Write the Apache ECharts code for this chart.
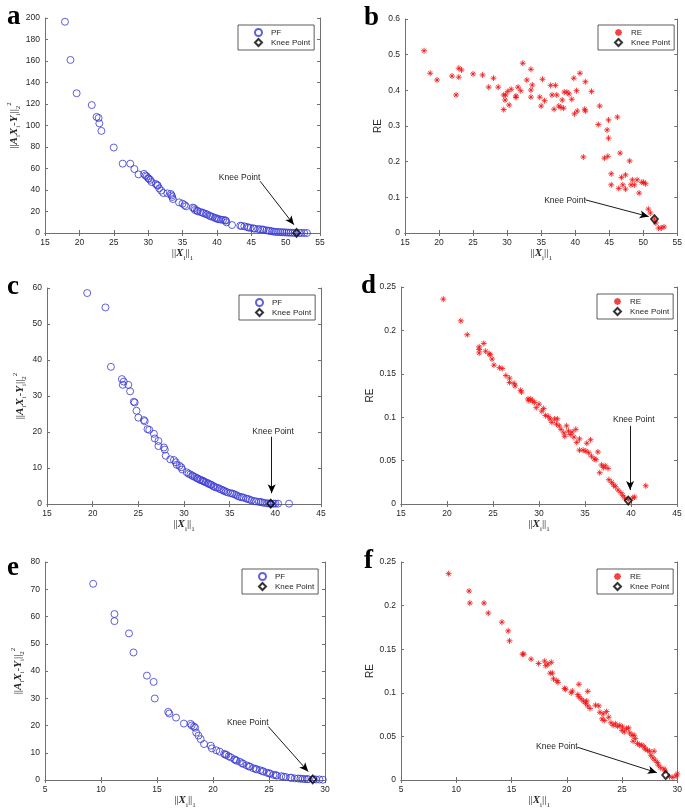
<!DOCTYPE html>
<html><head><meta charset="utf-8">
<script src="https://cdn.jsdelivr.net/npm/echarts/dist/echarts.min.js"></script>
<style>html,body{margin:0;padding:0;background:#fff}#c{width:685px;height:811px}</style>
</head><body><div id="c"></div>
<script>
// ---------- data ----------
const aX = [17.9,18.7,19.6,21.8,22.5,22.8,22.9,23.2,25.0,26.3,27.4,28.0,28.6,29.4,29.6,29.8,30.0,30.1,30.3,30.5,31.1,31.3,31.4,31.6,31.9,32.2,32.8,33.3,33.4,33.5,33.6,34.5,35.0,35.3,35.5,36.5,36.7,36.8,37.1,37.2,37.6,37.9,38.1,38.4,38.6,38.9,39.1,39.4,39.7,39.9,40.1,40.3,40.6,40.9,41.2,41.3,41.4,42.2,43.4,43.6,44.0,44.4,44.6,44.9,45.3,45.5,46.0,46.3,46.6,46.8,47.2,47.5,47.7,48.0,48.3,48.6,48.9,49.2,49.5,49.8,50.1,50.4,50.7,51.0,51.3,52.0,52.3,52.7,53.1];
const aY = [196.5,161,130,119,108,107,102,95,79.5,64.5,64.5,59.5,54.5,55,53.5,52.7,51,50.5,49.5,47.4,45.6,44.7,44,41.5,39.4,37.2,36.9,36.3,35,33.5,31.6,28.5,27.3,26,24.8,23.6,23,21.4,21,20.2,19.5,19,18.3,17.8,17.1,16.2,15.5,15,14,13.8,13,12.8,12.4,12.2,11.8,11.5,9.9,7.4,6.8,6.5,6.2,5.6,5,4.8,4.3,4.0,3.7,3.4,3.2,3.1,2.5,2.2,1.9,1.6,1.2,1.0,0.9,0.8,0.7,0.6,0.5,0.3,0.3,0.2,0.15,0.1,0.05,0.03,0.02];
const kneeA = [51.6, 0.1];

const bX = [17.8,18.7,19.7,21.9,22.5,22.9,22.9,23.3,25.0,26.4,27.3,28.0,28.7,29.5,29.5,29.7,29.8,30.1,30.3,30.6,31.3,31.3,31.6,32.0,32.3,32.9,33.5,33.5,33.5,33.7,34.8,35.0,35.2,35.5,36.4,36.6,36.9,37.1,37.3,37.6,37.9,38.1,38.3,38.4,38.8,39.1,39.5,39.8,39.9,40.2,40.3,40.7,41.2,41.4,41.5,41.5,42.4,43.4,43.6,44.3,44.7,44.8,44.9,44.9,45.3,45.3,46.4,46.2,46.6,46.8,47.0,47.4,47.4,48.0,48.2,48.4,48.7,49.1,49.4,49.8,50.05,50.35,50.75,51.05,51.65,51.85,52.25,52.65,53.05];
const bY = [0.511,0.448,0.429,0.440,0.387,0.437,0.462,0.457,0.446,0.443,0.409,0.434,0.409,0.387,0.346,0.373,0.387,0.397,0.359,0.403,0.384,0.380,0.409,0.399,0.476,0.429,0.459,0.401,0.381,0.415,0.381,0.356,0.431,0.371,0.414,0.387,0.347,0.414,0.387,0.356,0.352,0.373,0.350,0.395,0.395,0.390,0.375,0.434,0.334,0.399,0.342,0.448,0.213,0.347,0.424,0.342,0.397,0.304,0.356,0.210,0.289,0.215,0.317,0.266,0.166,0.135,0.125,0.325,0.224,0.156,0.135,0.163,0.123,0.202,0.135,0.149,0.135,0.149,0.112,0.142,0.142,0.138,0.067,0.056,0.039,0.028,0.014,0.014,0.017];
const kneeB = [51.65, 0.039];

const cX = [19.4,21.4,22.0,23.2,23.4,23.3,23.9,24.1,24.5,24.6,24.8,25.0,25.6,25.7,26.0,26.2,26.7,26.8,27.2,27.2,27.8,27.9,28.0,28.5,28.9,29.1,29.2,29.5,29.7,29.8,30.3,30.5,30.7,30.9,31.0,31.2,31.4,31.5,31.7,31.8,32.0,32.1,32.2,32.4,32.6,32.7,32.9,33.0,33.2,33.3,33.5,33.7,33.9,34.1,34.3,34.4,34.6,34.8,35.1,35.3,35.5,35.7,35.9,36.1,36.3,36.5,36.8,37.0,37.2,37.4,37.7,37.9,38.2,38.4,38.6,38.8,39.1,39.3,39.5,39.8,40.0,40.3,41.5];
const cY = [58.6,54.6,38.1,34.7,34.0,33.1,33.1,31.3,28.4,28.2,25.9,24.0,23.3,23.0,20.8,20.6,19.5,18.2,17.5,16.1,15.7,15.1,13.4,12.4,12.2,11.6,10.9,10.6,10.2,9.6,8.8,8.4,8.2,7.9,7.7,7.5,7.2,7.1,6.8,6.7,6.5,6.4,6.2,6.0,5.8,5.6,5.4,5.3,5.0,4.8,4.6,4.5,4.2,4.0,3.8,3.6,3.4,3.2,3.0,2.9,2.7,2.5,2.2,2.0,1.9,1.8,1.5,1.4,1.2,1.0,0.8,0.7,0.6,0.55,0.4,0.3,0.2,0.15,0.1,0.1,0.1,0.1,0.1];
const kneeC = [39.5, 0.1];

const dX = [19.6,21.5,22.2,23.5,23.5,23.5,24.0,24.2,24.6,24.7,24.9,25.1,25.7,26.0,26.4,26.8,26.8,27.3,27.4,28.0,28.1,28.8,28.9,29.1,29.3,29.5,29.7,30.0,30.3,30.5,30.7,31.0,31.2,31.4,31.7,31.9,32.0,32.2,32.4,32.7,32.8,33.0,33.2,33.4,33.6,33.8,34.0,34.1,34.4,34.4,34.8,35.1,35.2,35.6,35.4,35.7,36.0,36.2,36.4,36.6,36.8,37.0,37.2,37.5,37.6,37.9,38.1,38.3,38.6,38.9,39.1,39.3,39.7,40.2,40.4,41.6];
const dY = [0.236,0.211,0.195,0.181,0.178,0.174,0.185,0.176,0.173,0.172,0.167,0.160,0.157,0.156,0.148,0.145,0.140,0.139,0.136,0.131,0.129,0.121,0.119,0.121,0.119,0.117,0.111,0.115,0.107,0.110,0.102,0.101,0.098,0.094,0.098,0.092,0.098,0.090,0.086,0.082,0.078,0.090,0.084,0.080,0.083,0.077,0.086,0.071,0.075,0.062,0.062,0.061,0.070,0.074,0.059,0.055,0.052,0.051,0.060,0.036,0.045,0.042,0.044,0.041,0.028,0.025,0.022,0.020,0.016,0.013,0.010,0.007,0.005,0.007,0.008,0.021];
const kneeD = [39.7, 0.004];

const eX = [9.3,11.2,11.2,12.5,12.9,14.1,14.7,14.8,16.0,16.1,16.7,17.4,18.0,18.1,18.3,18.4,18.5,18.7,18.9,19.2,19.8,19.9,20.3,20.6,21.0,21.2,21.4,21.6,21.9,22.1,22.4,22.7,23.0,23.3,23.6,23.9,24.2,24.5,24.8,25.1,25.4,25.7,26.1,26.5,26.9,27.3,27.8,28.2,28.5,29.2,29.5,29.8,21.1,22.0,22.6,23.2,23.8,24.4,25.0,25.6,26.3,27.0,27.6,28.0,28.4,29.0];
const eY = [72.0,60.9,58.3,53.8,46.8,38.3,36.0,29.9,25.0,24.4,22.9,20.7,20.6,20.0,19.6,19.2,17.4,16.3,15.0,13.2,12.6,11.6,10.9,10.4,9.6,9.2,8.7,8.3,7.6,7.1,6.7,5.9,5.4,4.9,4.3,3.9,3.6,3.1,2.7,2.3,1.9,1.6,1.4,1.1,0.85,0.6,0.5,0.35,0.3,0.2,0.2,0.1,9.3,7.4,6.2,5.0,4.1,3.3,2.5,1.8,1.2,0.8,0.55,0.4,0.3,0.25];
const kneeE = [28.9, 0.25];

const fX = [9.31,11.16,11.23,12.51,12.9,14.13,14.7,14.82,16.0,16.1,16.77,17.45,18.0,18.1,18.3,18.6,18.5,18.7,18.8,19.1,19.2,19.8,19.9,20.4,20.5,21.0,21.1,21.1,21.3,21.5,21.7,21.8,21.9,21.9,22.1,22.6,22.9,23.0,23.3,23.6,23.2,23.4,23.8,24.0,24.2,24.4,24.6,24.8,25.0,25.05,25.2,25.4,25.6,25.7,25.9,26.1,26.2,26.0,26.4,26.6,26.8,27.0,27.1,27.3,27.5,27.6,27.8,27.9,28.0,28.2,28.3,28.5,28.8,28.9,29.3,29.6,29.9,30.0];
const fY = [0.2366,0.2167,0.2029,0.2029,0.1914,0.181,0.171,0.1596,0.1443,0.1443,0.1386,0.1336,0.1363,0.1310,0.133,0.135,0.1225,0.1225,0.116,0.114,0.112,0.105,0.104,0.100,0.102,0.098,0.1098,0.0955,0.0932,0.0906,0.088,0.0906,0.1017,0.085,0.082,0.0858,0.085,0.0777,0.0759,0.0785,0.0701,0.0682,0.072,0.0656,0.0627,0.0645,0.0615,0.0627,0.0570,0.0608,0.0551,0.0589,0.0597,0.054,0.0513,0.0513,0.0475,0.0445,0.0418,0.040,0.040,0.038,0.0353,0.0342,0.0330,0.0284,0.0253,0.033,0.0227,0.020,0.017,0.014,0.0127,0.0104,0.0038,0.003,0.0046,0.007];
const kneeF = [28.95, 0.0057];

// tick labels
const xTicksAB = [15,20,25,30,35,40,45,50,55];
const yTicksA = [0,20,40,60,80,100,120,140,160,180,200];
const yTicksB = [0,0.1,0.2,0.3,0.4,0.5,0.6];
const xTicksCD = [15,20,25,30,35,40,45];
const yTicksC = [0,10,20,30,40,50,60];
const yTicksD = [0,0.05,0.1,0.15,0.2,0.25];
const xTicksEF = [5,10,15,20,25,30];
const yTicksE = [0,10,20,30,40,50,60,70,80];
const yTicksF = [0,0.05,0.1,0.15,0.2,0.25];

const panelLetters = ['a','b','c','d','e','f'];
const kneeLabel = 'Knee Point';

// ---------- styles / layout ----------
const BLUE = '#3838d2', RED = '#f01414', AX = '#707070', TXT = '#262626';
const SANS = 'Liberation Sans', SERIF = 'Liberation Serif';
const STAR = 'path://M5 0L5 10M0 5L10 5M1.6 1.6L8.4 8.4M1.6 8.4L8.4 1.6';

const yNamePF = '{n|||}{v|A}{s|i}{v|X}{s|i}{n|-}{v|Y}{s|i}{n|||}{s|2}{p|2}';
const xName = '{n|||}{v|X}{s|i}{n|||}{s|1}';
const rich = {
  n: {fontFamily: SERIF, fontSize: 11, color: TXT, lineHeight: 16},
  v: {fontFamily: SERIF, fontSize: 11, fontStyle: 'italic', fontWeight: 'bold', color: TXT, lineHeight: 16},
  s: {fontFamily: SERIF, fontSize: 7, color: TXT, verticalAlign: 'bottom', lineHeight: 16},
  p: {fontFamily: SERIF, fontSize: 7, color: TXT, verticalAlign: 'top', lineHeight: 16}
};

const panels = [
  {x:aX, y:aY, knee:kneeA, kind:'PF', xt:xTicksAB, yt:yTicksA, grid:{left:45,top:18,width:275,height:215},
   text:[43.3,51.8], arrow:[[46.3,48.1],[51.2,7.7]], legend:[238,25], letter:[7,4], yGap:19},
  {x:bX, y:bY, knee:kneeB, kind:'RE', xt:xTicksAB, yt:yTicksB, grid:{left:405,top:19,width:274,height:214},
   text:[38.5,0.091], arrow:[[41.5,0.093],[50.8,0.046]], legend:[598,25], letter:[364,5], yGap:22},
  {x:cX, y:cY, knee:kneeC, kind:'PF', xt:xTicksCD, yt:yTicksC, grid:{left:47,top:288,width:274,height:216},
   text:[39.75,20.1], arrow:[[39.6,18.7],[39.6,3.0]], legend:[239,295], letter:[7,274], yGap:19},
  {x:dX, y:dY, knee:kneeD, kind:'RE', xt:xTicksCD, yt:yTicksD, grid:{left:401,top:287,width:276,height:217},
   text:[40.3,0.097], arrow:[[39.9,0.090],[39.9,0.016]], legend:[597,294], letter:[361,273], yGap:26},
  {x:eX, y:eY, knee:kneeE, kind:'PF', xt:xTicksEF, yt:yTicksE, grid:{left:45,top:562,width:280,height:218},
   text:[23.1,21.2], arrow:[[24.94,19.6],[28.5,3.1]], legend:[242,569], letter:[7,555], yGap:19},
  {x:fX, y:fY, knee:kneeF, kind:'RE', xt:xTicksEF, yt:yTicksF, grid:{left:401,top:562,width:278,height:218},
   text:[19.1,0.0379], arrow:[[20.96,0.0376],[28.15,0.0084]], legend:[597,569], letter:[364,548], yGap:25}
];

const grids = [], xAxes = [], yAxes = [], series = [], legends = [], graphics = [];
const tickOpt = {show:true, inside:true, length:3, lineStyle:{color:AX, width:1}};
const lineOpt = {show:true, lineStyle:{color:AX, width:1}};

panels.forEach((p, i) => {
  grids.push(Object.assign({containLabel:false}, p.grid));
  const xr = {min:p.xt[0], max:p.xt[p.xt.length-1], interval:p.xt[1]-p.xt[0]};
  const yr = {min:p.yt[0], max:p.yt[p.yt.length-1], interval:p.yt[1]-p.yt[0]};
  xAxes.push(Object.assign({type:'value', gridIndex:i, position:'bottom', splitLine:{show:false},
    axisLine:lineOpt, axisTick:tickOpt,
    axisLabel:{fontFamily:SANS, fontSize:8.5, color:TXT, margin:5},
    name:xName, nameLocation:'middle', nameGap:12, nameTextStyle:{rich:rich}}, xr));
  xAxes.push(Object.assign({type:'value', gridIndex:i, position:'top', splitLine:{show:false},
    axisLine:lineOpt, axisTick:tickOpt, axisLabel:{show:false}}, xr));
  yAxes.push(Object.assign({type:'value', gridIndex:i, position:'left', splitLine:{show:false},
    axisLine:lineOpt, axisTick:tickOpt,
    axisLabel:{fontFamily:SANS, fontSize:8.5, color:TXT, margin:5},
    name: p.kind === 'PF' ? yNamePF : 'RE', nameLocation:'middle', nameGap:p.yGap,
    nameTextStyle: p.kind === 'PF' ? {rich:rich} : {fontFamily:SANS, fontSize:10, color:TXT}}, yr));
  yAxes.push(Object.assign({type:'value', gridIndex:i, position:'right', splitLine:{show:false},
    axisLine:lineOpt, axisTick:tickOpt, axisLabel:{show:false}}, yr));

  const pts = p.x.map((v, k) => [v, p.y[k]]);
  if (p.kind === 'PF') {
    series.push({name:'PF', type:'scatter', xAxisIndex:2*i, yAxisIndex:2*i, data:pts,
      symbol:'circle', symbolSize:7,
      itemStyle:{color:'transparent', borderColor:BLUE, borderWidth:1}});
  } else {
    series.push({name:'RE', type:'scatter', xAxisIndex:2*i, yAxisIndex:2*i, data:pts,
      symbol:STAR, symbolSize:6,
      itemStyle:{color:'transparent', borderColor:RED, borderWidth:1}});
  }
  series.push({name:kneeLabel, type:'scatter', xAxisIndex:2*i, yAxisIndex:2*i, data:[p.knee],
    symbol:'diamond', symbolSize:[7,8], z:5,
    itemStyle:{color:'transparent', borderColor:'#000', borderWidth:1.8},
    markLine:{silent:true, symbol:['none','arrow'], symbolSize:[6,9], animation:false,
      lineStyle:{color:'#000', width:0.9, type:'solid'}, label:{show:false},
      data:[[{coord:p.arrow[0]},{coord:p.arrow[1]}]]},
    markPoint:{silent:true, symbol:'circle', symbolSize:0, animation:false,
      label:{show:true, position:'inside', formatter:kneeLabel, fontFamily:SANS, fontSize:8.5, color:TXT},
      data:[{coord:p.text}]}
  });
  legends.push({left:p.legend[0], top:p.legend[1], orient:'vertical', itemGap:1,
    itemWidth:7, itemHeight:7, padding:[3,4,3,16], borderColor:'#333', borderWidth:0.8,
    backgroundColor:'#fff', selectedMode:false,
    textStyle:{fontFamily:SANS, fontSize:8, color:TXT, padding:[0,0,0,4]},
    data:[p.kind, kneeLabel]});
  graphics.push({type:'text', left:p.letter[0], top:p.letter[1],
    style:{text:panelLetters[i], font:'bold 27px "Liberation Serif"', fill:'#000'}});
});

const chart = echarts.init(document.getElementById('c'), null, {renderer:'canvas'});
chart.setOption({
  animation:false, backgroundColor:'#fff',
  grid:grids, xAxis:xAxes, yAxis:yAxes, series:series, legend:legends, graphic:graphics
});
</script></body></html>
